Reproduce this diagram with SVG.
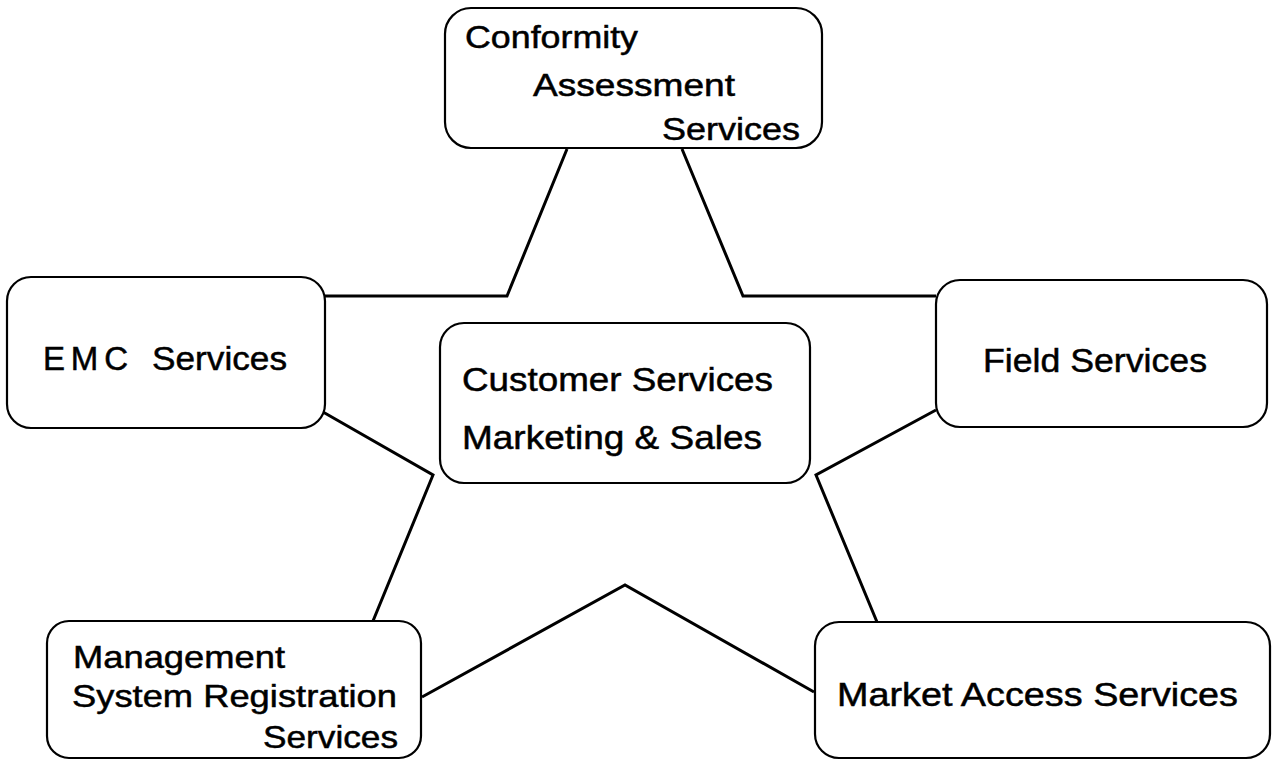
<svg xmlns="http://www.w3.org/2000/svg" width="1274" height="761" viewBox="0 0 1274 761">
<style>
.box{fill:#fff;stroke:#000;stroke-width:2.2}
.lbl{font-family:"Liberation Sans",Arial,sans-serif;fill:#000;stroke:#000;stroke-width:0.5}
.con{fill:none;stroke:#000;stroke-width:3;stroke-linejoin:miter}
</style>
<rect width="1274" height="761" fill="#fff"/>
<g id="connectors">
<polyline class="con" points="567,149 507,296 325,296"/>
<polyline class="con" points="682,149 743,296 936,296"/>
<polyline class="con" points="323,412 433,475 373,621"/>
<polyline class="con" points="936,410 816,475 877,622"/>
<polyline class="con" points="422,697 625,585 814,692"/>
</g>
<g id="node-conformity">
<rect class="box" x="445" y="8" width="377" height="140" rx="26"/>
<text class="lbl" font-size="31" x="465" y="48" textLength="173" lengthAdjust="spacingAndGlyphs">Conformity</text>
<text class="lbl" font-size="31" x="533" y="96" textLength="202" lengthAdjust="spacingAndGlyphs">Assessment</text>
<text class="lbl" font-size="31" x="662" y="140" textLength="138" lengthAdjust="spacingAndGlyphs">Services</text>
</g>
<g id="node-emc">
<rect class="box" x="7" y="277" width="318" height="151" rx="24"/>
<text class="lbl" font-size="33" y="370"><tspan x="43" textLength="85" lengthAdjust="spacing">EMC</tspan><tspan x="152" textLength="135" lengthAdjust="spacingAndGlyphs">Services</tspan></text>
</g>
<g id="node-center">
<rect class="box" x="440" y="323" width="370" height="160" rx="24"/>
<text class="lbl" font-size="33" x="462" y="391" textLength="311" lengthAdjust="spacingAndGlyphs">Customer Services</text>
<text class="lbl" font-size="33" x="462" y="449" textLength="300" lengthAdjust="spacingAndGlyphs">Marketing &amp; Sales</text>
</g>
<g id="node-field">
<rect class="box" x="936" y="280" width="331" height="147" rx="24"/>
<text class="lbl" font-size="33" x="983" y="372" textLength="224" lengthAdjust="spacingAndGlyphs">Field Services</text>
</g>
<g id="node-management">
<rect class="box" x="47" y="621" width="374" height="137" rx="22"/>
<text class="lbl" font-size="32" x="73" y="668" textLength="212" lengthAdjust="spacingAndGlyphs">Management</text>
<text class="lbl" font-size="32" x="72" y="707" textLength="325" lengthAdjust="spacingAndGlyphs">System Registration</text>
<text class="lbl" font-size="32" x="263" y="748" textLength="135" lengthAdjust="spacingAndGlyphs">Services</text>
</g>
<g id="node-market">
<rect class="box" x="815" y="622" width="455" height="136" rx="24"/>
<text class="lbl" font-size="33" x="837" y="706" textLength="401" lengthAdjust="spacingAndGlyphs">Market Access Services</text>
</g>
</svg>
